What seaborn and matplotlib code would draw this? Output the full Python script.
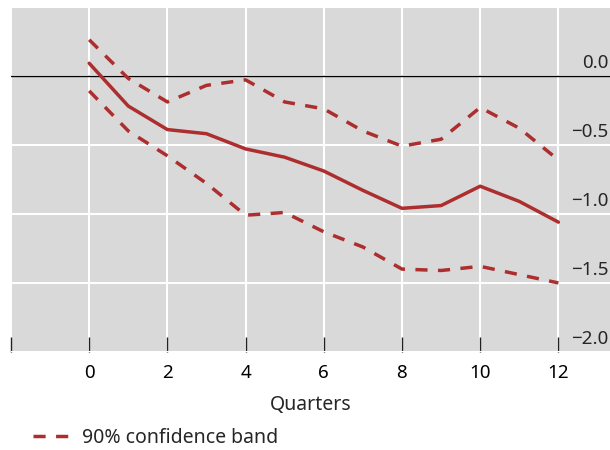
import matplotlib
matplotlib.use("Agg")
import matplotlib.pyplot as plt
from matplotlib.lines import Line2D
import seaborn as sns
import pandas as pd

# response over quarters
quarters = [0, 1, 2, 3, 4, 5, 6, 7, 8, 9, 10, 11, 12]
estimate = [0.09, -0.22, -0.39, -0.42, -0.53, -0.59, -0.69, -0.83, -0.96, -0.94, -0.80, -0.91, -1.06]
upper = [0.26, -0.02, -0.19, -0.07, -0.03, -0.19, -0.24, -0.40, -0.51, -0.46, -0.23, -0.38, -0.61]
lower = [-0.11, -0.40, -0.58, -0.78, -1.01, -0.99, -1.13, -1.24, -1.40, -1.41, -1.38, -1.44, -1.50]

xticks = [-2, 0, 2, 4, 6, 8, 10, 12]
xticklabels = ["", "0", "2", "4", "6", "8", "10", "12"]
yticks = [0.0, -0.5, -1.0, -1.5, -2.0]
yticklabels = ["0.0", "\u22120.5", "\u22121.0", "\u22121.5", "\u22122.0"]

red = "#AD2E2E"
gray = "#D9D9D9"

sns.set_style("darkgrid", {"axes.facecolor": gray, "grid.color": "white"})
plt.rcParams["font.family"] = ["Noto Sans", "DejaVu Sans"]

df = pd.DataFrame({"q": quarters, "est": estimate, "up": upper, "lo": lower})

fig = plt.figure(figsize=(6.1, 4.5), dpi=100)
ax = fig.add_axes([11 / 610, 98 / 450, 599 / 610, 344 / 450])

ax.axhline(0, color="black", lw=1.0, zorder=2)
sns.lineplot(data=df, x="q", y="est", color=red, lw=2.5, ax=ax, zorder=3)
sns.lineplot(data=df, x="q", y="up", color=red, lw=2.5, ax=ax, zorder=3)
ax.lines[-1].set_dashes((3.5, 3))
sns.lineplot(data=df, x="q", y="lo", color=red, lw=2.5, ax=ax, zorder=3)
ax.lines[-1].set_dashes((3.5, 3))

ax.set_xlim(-1.97, 13.32)
ax.set_ylim(-1.99, 0.49)
ax.set_xticks(xticks)
ax.set_xticklabels(xticklabels, fontsize=13.5)
ax.set_yticks(yticks)
ax.set_yticklabels([])
ax.tick_params(axis="y", length=0, left=False)
ax.tick_params(axis="x", bottom=True, direction="in", length=11, width=1,
               color="#222222", pad=9, labelcolor="black")
ax.grid(True, color="white", lw=1.5)
ax.set_xlabel("Quarters", fontsize=14, labelpad=9)
ax.set_ylabel("")
for s in ax.spines.values():
    s.set_visible(False)

for v, lab in zip(yticks, yticklabels):
    ax.annotate(lab, xy=(0.997, v), xycoords=("axes fraction", "data"),
                xytext=(0, 3), textcoords="offset points",
                ha="right", va="bottom", fontsize=13.5)

handle = Line2D([], [], color=red, lw=2.5, dashes=(3.5, 3))
fig.legend(handles=[handle], labels=["90% confidence band"], loc="center left",
           bbox_to_anchor=(33 / 610, 12 / 450), frameon=False, fontsize=14,
           handlelength=1.9, handletextpad=0.6, borderpad=0, borderaxespad=0)

fig.savefig("out.png", dpi=100, facecolor="white")
